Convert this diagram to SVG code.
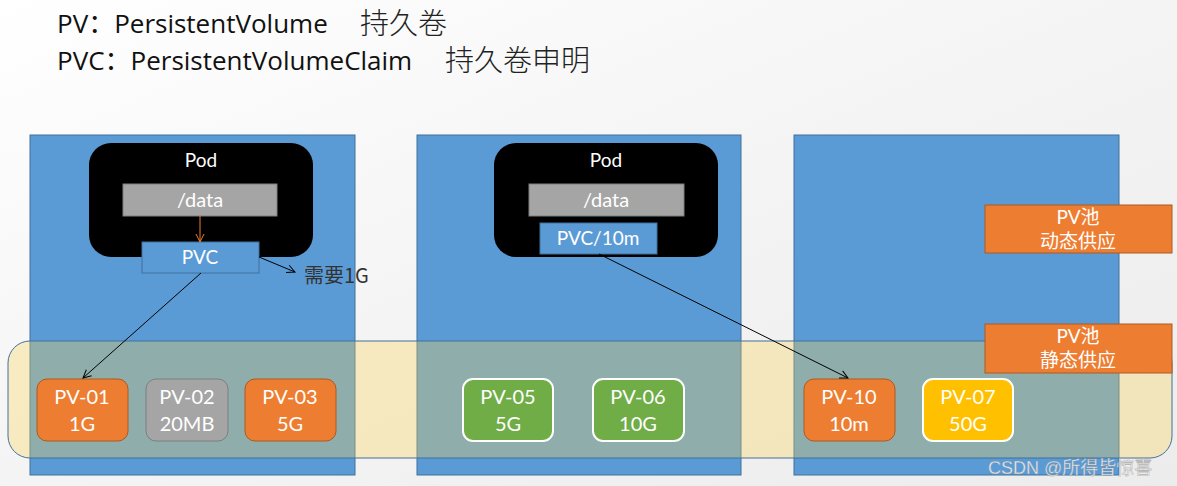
<svg xmlns="http://www.w3.org/2000/svg" width="1177" height="486" viewBox="0 0 1177 486">
<defs>
<linearGradient id="bg" x1="0" y1="0" x2="1" y2="1">
<stop offset="0" stop-color="#ffffff"/>
<stop offset="0.5" stop-color="#f4f4f4"/>
<stop offset="1" stop-color="#ececec"/>
</linearGradient>
<marker id="openK" viewBox="0 0 10 10" refX="9" refY="5" markerWidth="10" markerHeight="10" markerUnits="userSpaceOnUse" orient="auto">
<path d="M1,1 L9,5 L1,9" fill="none" stroke="#000" stroke-width="1"/>
</marker>
<marker id="openO" viewBox="0 0 10 10" refX="9" refY="5" markerWidth="10" markerHeight="10" markerUnits="userSpaceOnUse" orient="auto">
<path d="M1,1 L9,5 L1,9" fill="none" stroke="#ED7D31" stroke-width="1"/>
</marker>
</defs>
<style>
.title{font-family:"Open Sans","Noto Sans CJK SC",sans-serif;font-size:26px;fill:#111}
.cjk{font-family:"Noto Sans CJK SC",sans-serif;font-size:29px;fill:#222;font-weight:300}
.host{fill:#5B9BD5;stroke:#41719C;stroke-width:1}
.band{fill:#FDD555;fill-opacity:0.32;stroke:#41719C;stroke-width:1}
.pod{fill:#000}
.data{fill:#A5A5A5;stroke:#7F7F7F;stroke-width:1}
.pvc{fill:#5B9BD5;stroke:#41719C;stroke-width:1}
.w{font-family:"Lato","Open Sans","Noto Sans CJK SC",sans-serif;fill:#fff;text-anchor:middle}
.t18{font-size:19px}
.t20{font-size:20px}
.pool{fill:#ED7D31;stroke:#AE5A21;stroke-width:1}
.pvO{fill:#ED7D31;stroke:#AE5A21;stroke-width:1}
.pvG{fill:#A5A5A5;stroke:#7F7F7F;stroke-width:1}
.pvGr{fill:#70AD47;stroke:#fff;stroke-width:2}
.pvY{fill:#FFC000;stroke:#fff;stroke-width:2}
.note{font-family:"Noto Sans CJK SC",sans-serif;font-size:20px;fill:#333}
.wm{font-family:"Liberation Sans","Noto Sans CJK SC",sans-serif;font-size:18px;fill:#f2f2f2;stroke:#888;stroke-width:0.3;opacity:0.9}
</style>
<rect width="1177" height="486" fill="url(#bg)"/>
<g id="title">
<text class="title" x="57" y="33">PV：PersistentVolume</text>
<text class="cjk" x="360" y="34">持久卷</text>
<text class="title" x="57" y="70">PVC：PersistentVolumeClaim</text>
<text class="cjk" x="445" y="71">持久卷申明</text>
</g>
<g id="host1"><rect class="host" x="30" y="135" width="325" height="340"/></g>
<g id="host2"><rect class="host" x="417" y="135" width="324" height="340"/></g>
<g id="host3"><rect class="host" x="794" y="135" width="325" height="340"/></g>
<g id="band"><rect class="band" x="8" y="341" width="1164" height="117" rx="22"/></g>
<g id="pod1">
<rect class="pod" x="89" y="143" width="224" height="114" rx="22"/>
<text class="w" x="201" y="167" font-size="19">Pod</text>
<rect class="data" x="123" y="184" width="154" height="32"/>
<text class="w t20" x="200" y="207">/data</text>
</g>
<g id="pvc1">
<rect class="pvc" x="142" y="242" width="117" height="31"/>
<text class="w t18" x="200" y="264">PVC</text>
</g>
<g id="pod2">
<rect class="pod" x="494" y="143" width="224" height="114" rx="22"/>
<text class="w" x="606" y="167" font-size="19">Pod</text>
<rect class="data" x="529" y="184" width="155" height="32"/>
<text class="w t20" x="606" y="207">/data</text>
</g>
<g id="pvc2">
<rect class="pvc" x="540" y="223" width="117" height="31"/>
<text class="w t18" x="598" y="245">PVC/10m</text>
</g>
<g id="pool-dynamic">
<rect class="pool" x="985" y="205" width="187" height="48"/>
<text class="w t18" x="1078" y="224">PV池</text>
<text class="w t18" x="1078" y="248">动态供应</text>
</g>
<g id="pool-static">
<rect class="pool" x="985" y="324" width="187" height="49"/>
<text class="w t18" x="1078" y="343">PV池</text>
<text class="w t18" x="1078" y="367">静态供应</text>
</g>
<g id="pv01"><rect class="pvO" x="37" y="379" width="91" height="62" rx="10"/>
<text class="w t20" x="82" y="404">PV-01</text><text class="w t20" x="82" y="431">1G</text></g>
<g id="pv02"><rect class="pvG" x="146" y="379" width="82" height="62" rx="10"/>
<text class="w t20" x="187" y="404">PV-02</text><text class="w t20" x="187" y="431">20MB</text></g>
<g id="pv03"><rect class="pvO" x="245" y="379" width="91" height="62" rx="10"/>
<text class="w t20" x="290" y="404">PV-03</text><text class="w t20" x="290" y="431">5G</text></g>
<g id="pv05"><rect class="pvGr" x="463" y="379" width="90" height="62" rx="10"/>
<text class="w t20" x="508" y="404">PV-05</text><text class="w t20" x="508" y="431">5G</text></g>
<g id="pv06"><rect class="pvGr" x="593" y="379" width="91" height="62" rx="10"/>
<text class="w t20" x="638" y="404">PV-06</text><text class="w t20" x="638" y="431">10G</text></g>
<g id="pv10"><rect class="pvO" x="804" y="379" width="91" height="62" rx="10"/>
<text class="w t20" x="849" y="404">PV-10</text><text class="w t20" x="849" y="431">10m</text></g>
<g id="pv07"><rect class="pvY" x="923" y="379" width="90" height="62" rx="10"/>
<text class="w t20" x="968" y="404">PV-07</text><text class="w t20" x="968" y="431">50G</text></g>
<g id="note"><text class="note" x="304" y="283">需要1G</text></g>
<g id="connectors" fill="none">
<line x1="200" y1="216" x2="200" y2="242" stroke="#ED7D31" stroke-width="1" marker-end="url(#openO)"/>
<line x1="259" y1="257" x2="295" y2="272" stroke="#000" stroke-width="1" marker-end="url(#openK)"/>
<line x1="201" y1="273" x2="83" y2="378" stroke="#000" stroke-width="1" marker-end="url(#openK)"/>
<line x1="599" y1="254" x2="848" y2="378" stroke="#000" stroke-width="1" marker-end="url(#openK)"/>
</g>
<g id="watermark"><text class="wm" x="988" y="474">CSDN @所得皆惊喜</text></g>
</svg>
